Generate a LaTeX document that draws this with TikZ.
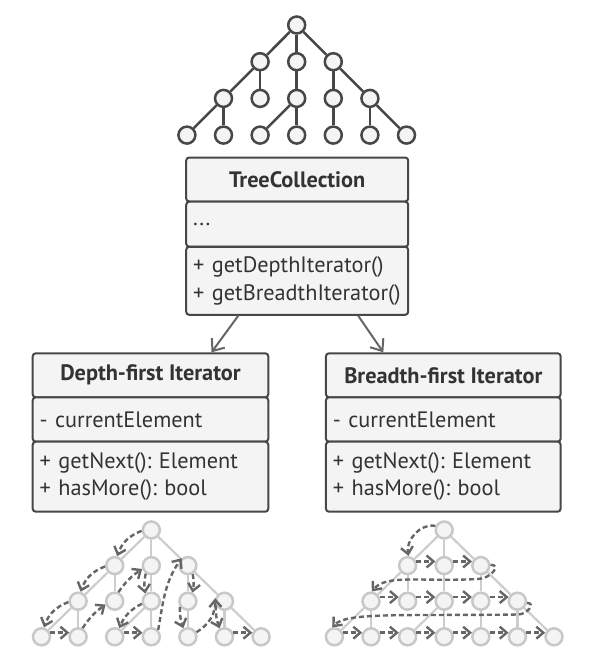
\documentclass[tikz,border=0pt]{standalone}
\usepackage{fontspec}
\setmainfont{PT Sans}
\frenchspacing
\usetikzlibrary{arrows.meta}
\definecolor{boxline}{HTML}{474747}
\definecolor{boxfill}{HTML}{F4F4F4}
\definecolor{textgray}{HTML}{333333}
\definecolor{walkgray}{HTML}{666666}
\definecolor{palenode}{HTML}{C8C8C8}
\definecolor{paleedge}{HTML}{CDCDCD}
\tikzset{
  classhead/.style={draw=boxline, fill=boxfill, line width=2pt, rounded corners=3pt, text=textgray,
    font=\fontsize{22.3}{27.5}\selectfont\bfseries, inner sep=0pt, align=center},
  classpart/.style={draw=boxline, fill=boxfill, line width=2pt, rounded corners=3pt, text=textgray,
    font=\fontsize{22.3}{27.5}\selectfont, inner xsep=7pt, inner ysep=0pt, align=left},
  treenode/.style={circle, draw=boxline, fill=boxfill, line width=2.5pt, minimum size=17pt, inner sep=0pt},
  treeedge/.style={draw=boxline, line width=2.5pt},
  walknode/.style={circle, draw=palenode, fill=boxfill, line width=2.5pt, minimum size=17pt, inner sep=0pt},
  walkedge/.style={draw=paleedge, line width=2.2pt},
  walk/.style={draw=walkgray, line width=2.4pt, dash pattern=on 5pt off 3pt, -{Straight Barb[length=7pt,width=12pt]}},
  uses/.style={draw=walkgray, line width=2pt, -{Straight Barb[length=10pt,width=16pt]}}
}
\begin{document}
\begin{tikzpicture}[x=1pt,y=1pt]
		\useasboundingbox (0,0) rectangle (591,-666);
		% the three trees
		\foreach \pre/\look/\cx/\cy/\dy in {t/treenode/296.7/-25/36.7, d/walknode/151.3/-530/35.6, b/walknode/444.2/-530/35.6}{
			\node[\look] (\pre0-1) at (\cx,\cy) {};
			\foreach \i in {1,...,3}
				\node[\look] (\pre1-\i) at ({\cx+(\i-2)*36.6},{\cy-\dy}) {};
			\foreach \i in {1,...,5}
				\node[\look] (\pre2-\i) at ({\cx+(\i-3)*36.6},{\cy-2*\dy}) {};
			\foreach \i in {1,...,7}
				\node[\look] (\pre3-\i) at ({\cx+(\i-4)*36.6},{\cy-3*\dy}) {};
		}
		\foreach \pre/\look in {t/treeedge, d/walkedge, b/walkedge}
			\foreach \pa/\ch in {0-1/1-1, 0-1/1-2, 0-1/1-3, 1-1/2-1, 1-1/2-2, 1-2/2-3, 1-3/2-4, 1-3/2-5,
				2-1/3-1, 2-1/3-2, 2-3/3-3, 2-3/3-4, 2-4/3-5, 2-5/3-6, 2-5/3-7}
				\draw[\look] (\pre\pa) -- (\pre\ch);
		% collection
		\node[classhead, minimum width=222pt, minimum height=44pt] (tchead) at (297.2,-179.5) {TreeCollection};
		\node[classpart, text width=208pt, minimum height=45pt] (tcattr) at (297.2,-224.2) {...};
		\node[classpart, text width=208pt, minimum height=68pt] (tcmeth) at (297.2,-280.8) {+ getDepthIterator()\\+ getBreadthIterator()};
		% depth-first iterator
		\node[classhead, minimum width=235.6pt, minimum height=44pt] (dfshead) at (150.5,-375.3) {Depth-first Iterator};
		\node[classpart, text width=221.6pt, minimum height=44.4pt] (dfsattr) at (150.5,-419.5) {- currentElement};
		\node[classpart, text width=221.6pt, minimum height=70pt] (dfsmeth) at (150.5,-476.7) {+ getNext(): Element\\+ hasMore(): bool};
		% breadth-first iterator
		\node[classhead, minimum width=234.7pt, minimum height=44pt] (bfshead) at (443.3,-375.3) {Breadth-first Iterator};
		\node[classpart, text width=220.7pt, minimum height=44.4pt] (bfsattr) at (443.3,-419.5) {- currentElement};
		\node[classpart, text width=220.7pt, minimum height=70pt] (bfsmeth) at (443.3,-476.7) {+ getNext(): Element\\+ hasMore(): bool};
		\draw[uses] ([xshift=-59pt]tcmeth.south) -- ([xshift=61pt]dfshead.north);
		\draw[uses] ([xshift=61pt]tcmeth.south) -- ([xshift=-60pt]bfshead.north);
		% depth-first walk
		\draw[walk] (d0-1.185) to[bend right=25] (d1-1.75);
		\draw[walk] (d1-1.185) to[bend right=25] (d2-1.75);
		\draw[walk] (d2-1.185) to[bend right=25] (d3-1.75);
		\draw[walk] (d3-1.25) -- (d3-2.155);
		\draw[walk] (d3-2.63) to[bend left=10] (d2-2.200);
		\draw[walk] (d2-2.68) to[bend left=10] (d1-2.200);
		\draw[walk] (d1-2.235) to[bend right=10] (d2-3.128);
		\draw[walk] (d2-3.195) to[bend right=20] (d3-3.62);
		\draw[walk] (d3-3.25) -- (d3-4.155);
		\draw[walk] (d3-4.45) to[out=80,in=235] (d1-3.130);
		\draw[walk] (d1-3.300) to[bend left=10] (d2-4.62);
		\draw[walk] (d2-4.215) to[bend right=10] (d3-5.118);
		\draw[walk] (d3-5.28) to[bend right=30] (d2-5.162);
		\draw[walk] (d2-5.205) to[bend right=10] (d3-6.120);
		\draw[walk] (d3-6.25) -- (d3-7.155);
		% breadth-first walk
		\coordinate (turn1) at (478,-579);
		\coordinate (turn2) at (518,-614.5);
		\draw[walk] (b0-1.155) to[out=170,in=100] (b1-1.85);
		\draw[walk] (b1-1.25) -- (b1-2.155);
		\draw[walk] (b1-2.25) -- (b1-3.155);
		\draw[walk] (b1-3.5) to[out=0,in=0,looseness=1.6] (turn1) .. controls (420,-582) and (386,-574) .. (b2-1.85);
		\foreach \i/\j in {1/2, 2/3, 3/4, 4/5}
			\draw[walk] (b2-\i.25) -- (b2-\j.155);
		\draw[walk] (b2-5.350) to[out=0,in=0,looseness=1.6] (turn2) .. controls (400,-616) and (346,-612) .. (b3-1.103);
		\foreach \i/\j in {1/2, 2/3, 3/4, 4/5, 5/6, 6/7}
			\draw[walk] (b3-\i.25) -- (b3-\j.155);
\end{tikzpicture}
\end{document}
